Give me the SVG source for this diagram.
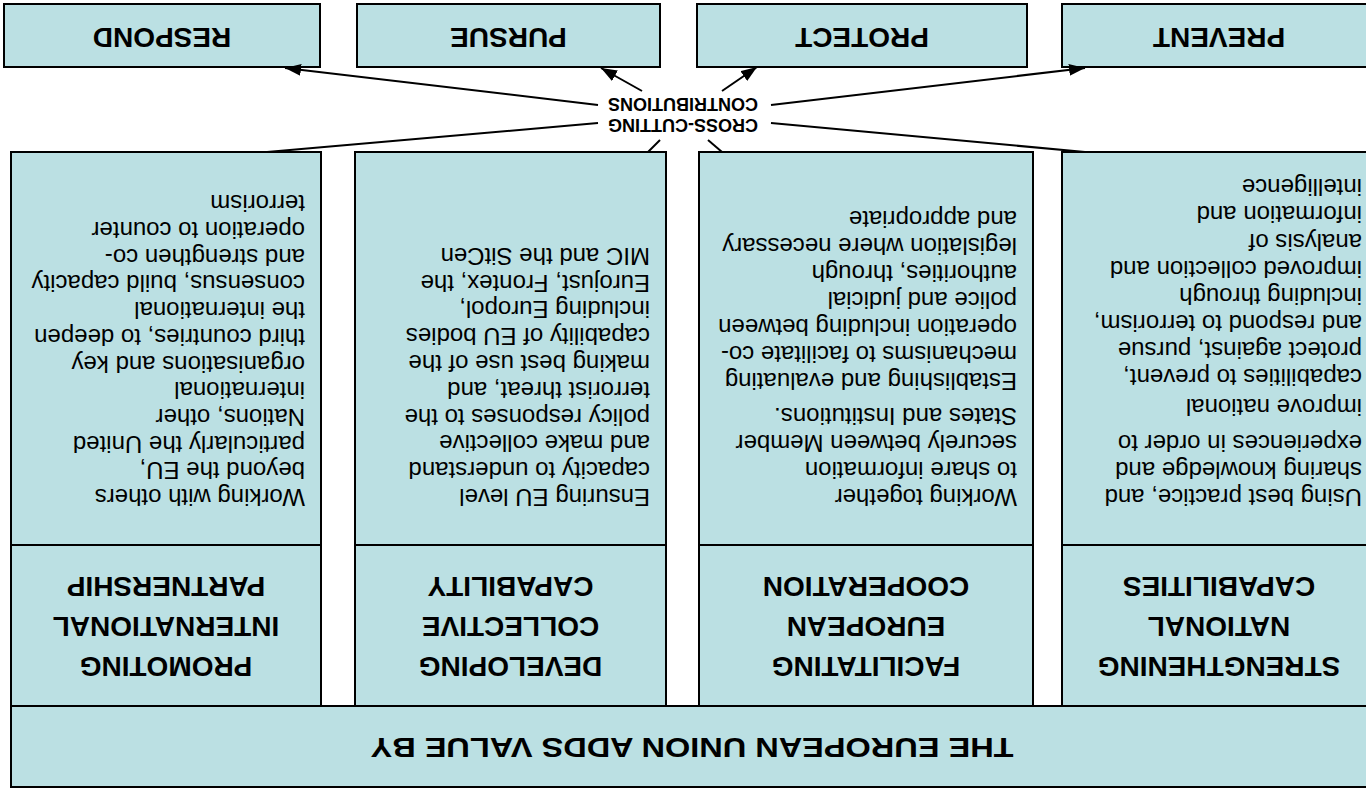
<svg xmlns="http://www.w3.org/2000/svg" width="1366" height="789" viewBox="0 0 1366 789">
<style>
.box{fill:#BBE0E3;stroke:#000;stroke-width:2}
.hd{font-family:"Liberation Sans",Arial,sans-serif;font-weight:bold;font-size:28px;text-anchor:middle;fill:#000}
.ds{font-family:"Liberation Sans",Arial,sans-serif;font-size:24px;fill:#000}
.cc{font-family:"Liberation Sans",Arial,sans-serif;font-weight:bold;font-size:18px;text-anchor:middle;fill:#000}
.ln{stroke:#000;stroke-width:2;fill:none}
</style>
<defs>
<marker id="ah" markerUnits="userSpaceOnUse" markerWidth="18" markerHeight="14" refX="16" refY="6" orient="auto">
<path d="M0,0 L16,6 L0,12 z" fill="#000"/>
</marker>
</defs>
<rect width="1366" height="789" fill="#fff"/>
<g transform="rotate(180 683 394.5)">
<g id="adds-value">
<rect class="box" x="-12" y="2" width="1367" height="81"/>
<text class="hd" x="674" y="51" textLength="643" lengthAdjust="spacingAndGlyphs">THE EUROPEAN UNION ADDS VALUE BY</text>
</g>
<g id="col-national">
<rect class="box" x="-12" y="83" width="316" height="161"/>
<text class="hd"><tspan x="147" y="132">STRENGTHENING</tspan><tspan x="147" y="172">NATIONAL</tspan><tspan x="147" y="212">CAPABILITIES</tspan></text>
<rect class="box" x="-12" y="244" width="316" height="393"/>
<text class="ds"><tspan x="4" y="300">Using best practice, and</tspan><tspan x="4" y="327">sharing knowledge and</tspan><tspan x="4" y="354">experiences in order to</tspan><tspan x="4" y="390">improve national</tspan><tspan x="4" y="420">capabilities to prevent,</tspan><tspan x="4" y="447">protect against, pursue</tspan><tspan x="4" y="474">and respond to terrorism,</tspan><tspan x="4" y="501">including through</tspan><tspan x="4" y="528">improved collection and</tspan><tspan x="4" y="555">analysis of</tspan><tspan x="4" y="583">information and</tspan><tspan x="4" y="610">intelligence</tspan></text>
</g>
<g id="col-european">
<rect class="box" x="333" y="83" width="334" height="161"/>
<text class="hd"><tspan x="500" y="132">FACILITATING</tspan><tspan x="500" y="172">EUROPEAN</tspan><tspan x="500" y="212">COOPERATION</tspan></text>
<rect class="box" x="333" y="244" width="334" height="393"/>
<text class="ds"><tspan x="349" y="300">Working together</tspan><tspan x="349" y="327">to share information</tspan><tspan x="349" y="354">securely between Member</tspan><tspan x="349" y="381">States and Institutions.</tspan><tspan x="349" y="416">Establishing and evaluating</tspan><tspan x="349" y="443">mechanisms to facilitate co-</tspan><tspan x="349" y="470">operation including between</tspan><tspan x="349" y="497">police and judicial</tspan><tspan x="349" y="524">authorities, through</tspan><tspan x="349" y="551">legislation where necessary</tspan><tspan x="349" y="578">and appropriate</tspan></text>
</g>
<g id="col-collective">
<rect class="box" x="700" y="83" width="311" height="161"/>
<text class="hd"><tspan x="855.5" y="132">DEVELOPING</tspan><tspan x="855.5" y="172">COLLECTIVE</tspan><tspan x="855.5" y="212">CAPABILITY</tspan></text>
<rect class="box" x="700" y="244" width="311" height="393"/>
<text class="ds"><tspan x="716" y="300">Ensuring EU level</tspan><tspan x="716" y="327">capacity to understand</tspan><tspan x="716" y="354">and make collective</tspan><tspan x="716" y="380">policy responses to the</tspan><tspan x="716" y="407">terrorist threat, and</tspan><tspan x="716" y="434">making best use of the</tspan><tspan x="716" y="461">capability of EU bodies</tspan><tspan x="716" y="488">including Europol,</tspan><tspan x="716" y="514">Eurojust, Frontex, the</tspan><tspan x="716" y="541">MIC and the SitCen</tspan></text>
</g>
<g id="col-international">
<rect class="box" x="1045" y="83" width="310" height="161"/>
<text class="hd"><tspan x="1200" y="132">PROMOTING</tspan><tspan x="1200" y="172">INTERNATIONAL</tspan><tspan x="1200" y="212">PARTNERSHIP</tspan></text>
<rect class="box" x="1045" y="244" width="310" height="393"/>
<text class="ds"><tspan x="1061" y="300">Working with others</tspan><tspan x="1061" y="327">beyond the EU,</tspan><tspan x="1061" y="353">particularly the United</tspan><tspan x="1061" y="380">Nations, other</tspan><tspan x="1061" y="407">international</tspan><tspan x="1061" y="433">organisations and key</tspan><tspan x="1061" y="460">third countries, to deepen</tspan><tspan x="1061" y="487">the international</tspan><tspan x="1061" y="514">consensus, build capacity</tspan><tspan x="1061" y="540">and strengthen co-</tspan><tspan x="1061" y="567">operation to counter</tspan><tspan x="1061" y="594">terrorism</tspan></text>
</g>
<g id="cross-cutting">
<text class="cc"><tspan x="683" y="670">CROSS-CUTTING</tspan><tspan x="683" y="691">CONTRIBUTIONS</tspan></text>
</g>
<g id="prevent">
<rect class="box" x="-12" y="722" width="316" height="63"/>
<text class="hd" x="147" y="761">PREVENT</text>
</g>
<g id="protect">
<rect class="box" x="339" y="722" width="330" height="63"/>
<text class="hd" x="504" y="761">PROTECT</text>
</g>
<g id="pursue">
<rect class="box" x="706" y="722" width="303" height="63"/>
<text class="hd" x="857.5" y="761">PURSUE</text>
</g>
<g id="respond">
<rect class="box" x="1046" y="722" width="316" height="63"/>
<text class="hd" x="1204" y="761">RESPOND</text>
</g>
<g id="connectors">
<line class="ln" x1="768" y1="684" x2="1081" y2="721" marker-end="url(#ah)"/>
<line class="ln" x1="724" y1="698" x2="765" y2="721" marker-end="url(#ah)"/>
<line class="ln" x1="644" y1="698" x2="609" y2="722" marker-end="url(#ah)"/>
<line class="ln" x1="595" y1="684" x2="281" y2="721" marker-end="url(#ah)"/>
<line class="ln" x1="768" y1="666" x2="1099" y2="637"/>
<line class="ln" x1="706" y1="649" x2="718" y2="637"/>
<line class="ln" x1="658" y1="649" x2="644" y2="637"/>
<line class="ln" x1="595" y1="666" x2="281" y2="637"/>
</g>
</g>
</svg>
